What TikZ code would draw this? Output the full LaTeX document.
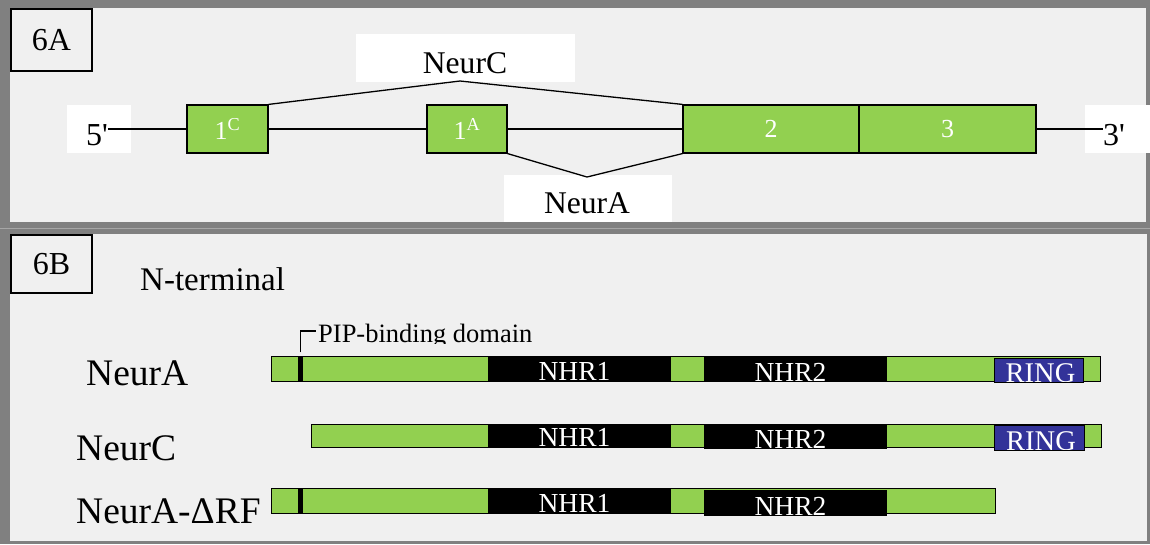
\documentclass[tikz,border=0pt]{standalone}
\usepackage{fontspec}
\setmainfont{Liberation Serif}
\definecolor{exgreen}{HTML}{92D050}
\definecolor{ringblue}{HTML}{333399}
\definecolor{panelbg}{HTML}{F0F0F0}
\definecolor{framegray}{HTML}{808080}
\begin{document}
\begin{tikzpicture}[x=1pt,y=-1pt,
  fs/.style={font=\fontsize{#1}{#1}\selectfont},
  txt/.style={inner sep=0pt, text=black},
  labbox/.style={draw=black, line width=1.5pt, fill=panelbg, inner sep=0pt, fs=32},
  whitebox/.style={fill=white, draw=none, inner sep=0pt},
  exon/.style={fill=exgreen, draw=black, line width=1.2pt, inner sep=0pt, minimum height=48, text=white, fs=26},
  conn/.style={draw=black, line width=1.3pt},
  bar/.style={fill=exgreen, draw=black, line width=1pt, inner sep=0pt},
  pipmark/.style={fill=black, draw=none, inner sep=0pt, minimum width=5, minimum height=24},
  domtxt/.style={text=white, inner sep=0pt, anchor=base, fs=27.5},
  dom/.style={fill=black, draw=none, inner sep=0pt,
    path picture={\node[domtxt] at ([xshift=-5pt,yshift=1pt]path picture bounding box.south) {#1};}},
  ringdom/.style={fill=ringblue, draw=black, line width=1pt, inner sep=0pt,
    path picture={\node[domtxt, fs=28.5] at ([xshift=2pt]path picture bounding box.south) {RING};}},
]
\useasboundingbox (0,0) rectangle (1150,544);
% panels
\fill[framegray] (0,0) rectangle (1150,544);
\fill[panelbg] (10,8) rectangle (1146,222);
\fill[panelbg] (10,234) rectangle (1147,541);
\draw[line width=1pt, color=gray!70] (0,228) -- (1150,228);

% ---------- Panel 6A ----------
\node[labbox, minimum width=81, minimum height=62] (l6a) at (51.5,40) {6A};

\node[whitebox, minimum width=64, minimum height=48] (b5) at (99,129) {};
\node[whitebox, minimum width=65, minimum height=48] (b3) at (1117.5,129) {};
\node[whitebox, minimum width=219, minimum height=48] (bC) at (465.5,58) {};
\node[whitebox, minimum width=168, minimum height=47] (bA) at (588,198.5) {};

\node[txt, fs=32, anchor=base east] (t5) at (108,145) {5\textquotesingle};
\node[txt, fs=32, anchor=base west] (t3) at (1103,145) {3\textquotesingle};
\node[txt, fs=31.6, anchor=base] (tC) at (465,73) {NeurC};
\node[txt, fs=31.6, anchor=base] (tA) at (587,213.3) {NeurA};

\node[exon, minimum width=81] (c1) at (227.5,129) {1\textsuperscript{C}};
\node[exon, minimum width=80] (a1) at (467,129) {1\textsuperscript{A}};
\node[exon, minimum width=176] (e2) at (771,129) {2};
\node[exon, minimum width=177] (e3) at (947.5,129) {3};

\coordinate (apC) at (460,81);
\coordinate (apA) at (587,177);

\draw[conn] (t5.east |- c1.west) -- (c1.west);
\draw[conn] (c1.east) -- (a1.west);
\draw[conn] (a1.east) -- (e2.west);
\draw[conn] (e3.east) -- (t3.west |- e3.east);
\draw[conn] (c1.north east) -- (apC) -- (e2.north west);
\draw[conn] (a1.south east) -- (apA) -- (e2.south west);

% ---------- Panel 6B ----------
\node[labbox, minimum width=81, minimum height=58] (l6b) at (51.5,264) {6B};
\node[txt, fs=33, anchor=base west] (nterm) at (140,290) {N-terminal};

% row labels
\node[txt, fs=37.5, anchor=base west] (rA) at (86,385) {NeurA};
\node[txt, fs=37.5, anchor=base west] (rC) at (76,460) {NeurC};
\node[txt, fs=37.5, anchor=base west] (rD) at (76,523) {NeurA-ΔRF};

% row 1: NeurA
\node[bar, minimum width=829, minimum height=25] (barA) at (685.5,368.5) {};
\node[pipmark] (mkA) at (300.5,368.5) {};
\node[dom=NHR1, minimum width=183, minimum height=25] (n1A) at (579.5,368.5) {};
\node[dom=NHR2, minimum width=183, minimum height=26] (n2A) at (795.5,369) {};
\node[ringdom, minimum width=89, minimum height=24] (rgA) at (1038.5,370) {};

% row 2: NeurC
\node[bar, minimum width=790, minimum height=23] (barC) at (706,435.5) {};
\node[dom=NHR1, minimum width=183, minimum height=23] (n1C) at (579.5,435.5) {};
\node[dom=NHR2, minimum width=183, minimum height=25] (n2C) at (795.5,436.5) {};
\node[ringdom, minimum width=90, minimum height=25] (rgC) at (1039,437.5) {};

% row 3: NeurA-dRF
\node[bar, minimum width=724, minimum height=25] (barD) at (633,500.5) {};
\node[pipmark] (mkD) at (300.5,500.5) {};
\node[dom=NHR1, minimum width=183, minimum height=25] (n1D) at (579.5,500.5) {};
\node[dom=NHR2, minimum width=183, minimum height=26] (n2D) at (795.5,503) {};

% PIP-binding domain label (clipped at bottom)
\begin{scope}
  \clip (305,305) rectangle (620,343);
  \node[txt, fs=26.5, anchor=base west] (pip) at (318,342) {PIP-binding domain};
\end{scope}
\coordinate (pipc) at (316,331);
\draw[line width=1.3pt] ([yshift=4pt]mkA.north) |- (pipc);
\end{tikzpicture}
\end{document}
